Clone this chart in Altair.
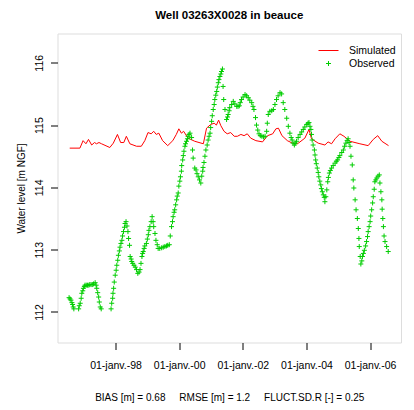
import altair as alt
import pandas as pd

title_text = "Well 03263X0028 in beauce"
y_title = "Water level [m NGF]"
x_title = "BIAS [m] = 0.68\u00a0\u00a0\u00a0\u00a0\u00a0RMSE [m] = 1.2\u00a0\u00a0\u00a0\u00a0\u00a0FLUCT.SD.R [-] = 0.25"
series_names = ["Simulated", "Observed"]
series_colors = ["#FF0000", "#00CD00"]

x_tick_years = [1998, 2000, 2002, 2004, 2006]
x_tick_labels = ["01-janv.-98", "01-janv.-00", "01-janv.-02", "01-janv.-04", "01-janv.-06"]
y_ticks = [112, 113, 114, 115, 116]

sim_years = [1996.56, 1996.88, 1996.98, 1997.07, 1997.15, 1997.25, 1997.34, 1997.40, 1997.48, 1997.56,
             1997.82, 1997.93, 1998.06, 1998.16, 1998.26, 1998.34, 1998.45, 1998.66, 1998.81, 1998.92,
             1999.02, 1999.12, 1999.20, 1999.28, 1999.36, 1999.48, 1999.64, 1999.80, 1999.91, 1999.99,
             2000.07, 2000.14, 2000.28, 2000.49, 2000.76, 2000.86, 2000.99, 2001.10, 2001.17, 2001.24,
             2001.31, 2001.41, 2001.51, 2001.62, 2001.73, 2001.83, 2001.94, 2002.04, 2002.14, 2002.25,
             2002.41, 2002.62, 2002.78, 2002.94, 2003.04, 2003.12, 2003.23, 2003.40, 2003.56, 2003.72,
             2003.95, 2004.08, 2004.16, 2004.37, 2004.58, 2004.68, 2004.79, 2004.90, 2005.05, 2005.18,
             2005.37, 2005.68, 2005.94, 2006.10, 2006.24, 2006.37, 2006.58]
sim_values = [114.63, 114.63, 114.75, 114.70, 114.77, 114.68, 114.72, 114.70, 114.72, 114.70,
              114.64, 114.71, 114.85, 114.72, 114.72, 114.82, 114.70, 114.66, 114.66, 114.75,
              114.88, 114.86, 114.90, 114.85, 114.87, 114.75, 114.67, 114.75, 114.85, 114.94,
              114.87, 114.90, 114.79, 114.74, 114.70, 114.95, 115.01, 115.03, 115.00, 115.08,
              114.99, 114.90, 114.86, 114.88, 114.82, 114.82, 114.85, 114.83, 114.86, 114.79,
              114.75, 114.73, 114.83, 114.86, 114.94, 114.95, 114.83, 114.75, 114.71, 114.70,
              114.79, 114.93, 114.78, 114.71, 114.68, 114.73, 114.70, 114.78, 114.86, 114.82,
              114.74, 114.70, 114.67, 114.77, 114.83, 114.74, 114.67]

obs_years = [1996.54, 1996.57, 1996.60, 1996.63, 1996.65, 1996.67, 1996.69, 1996.84, 1996.86, 1996.89,
             1996.92, 1996.94, 1996.97, 1996.99, 1997.02, 1997.04, 1997.08, 1997.12, 1997.16, 1997.19,
             1997.23, 1997.27, 1997.31, 1997.36, 1997.39, 1997.41, 1997.44, 1997.47, 1997.49, 1997.52,
             1997.55, 1997.86, 1997.88, 1997.91, 1997.92, 1997.94, 1997.96, 1997.99, 1998.02, 1998.04,
             1998.07, 1998.09, 1998.12, 1998.14, 1998.17, 1998.20, 1998.22, 1998.25, 1998.28, 1998.30,
             1998.33, 1998.36, 1998.39, 1998.41, 1998.44, 1998.46, 1998.49, 1998.51, 1998.54, 1998.58,
             1998.62, 1998.66, 1998.70, 1998.74, 1998.77, 1998.80, 1998.83, 1998.85, 1998.87, 1998.90,
             1998.92, 1998.97, 1999.00, 1999.03, 1999.05, 1999.08, 1999.12, 1999.15, 1999.18, 1999.20,
             1999.24, 1999.27, 1999.31, 1999.34, 1999.39, 1999.45, 1999.50, 1999.55, 1999.60, 1999.64,
             1999.69, 1999.72, 1999.76, 1999.79, 1999.81, 1999.84, 1999.86, 1999.89, 1999.92, 1999.94,
             1999.97, 1999.99, 2000.02, 2000.04, 2000.07, 2000.08, 2000.11, 2000.13, 2000.15, 2000.18,
             2000.20, 2000.23, 2000.26, 2000.28, 2000.31, 2000.34, 2000.39, 2000.42, 2000.44, 2000.49,
             2000.53, 2000.56, 2000.60, 2000.64, 2000.68, 2000.71, 2000.74, 2000.75, 2000.78, 2000.81,
             2000.84, 2000.88, 2000.91, 2000.94, 2000.97, 2000.99, 2001.02, 2001.04, 2001.07, 2001.10,
             2001.12, 2001.15, 2001.18, 2001.20, 2001.23, 2001.25, 2001.28, 2001.31, 2001.33, 2001.36,
             2001.38, 2001.40, 2001.44, 2001.49, 2001.52, 2001.54, 2001.57, 2001.59, 2001.65, 2001.70,
             2001.75, 2001.81, 2001.85, 2001.89, 2001.92, 2001.96, 2002.01, 2002.07, 2002.12, 2002.17,
             2002.22, 2002.28, 2002.32, 2002.35, 2002.40, 2002.43, 2002.47, 2002.51, 2002.55, 2002.60,
             2002.65, 2002.70, 2002.75, 2002.77, 2002.80, 2002.85, 2002.91, 2002.96, 2003.01, 2003.06,
             2003.11, 2003.17, 2003.22, 2003.27, 2003.32, 2003.38, 2003.43, 2003.48, 2003.52, 2003.55,
             2003.58, 2003.62, 2003.65, 2003.69, 2003.74, 2003.80, 2003.85, 2003.90, 2003.95, 2004.01,
             2004.05, 2004.08, 2004.11, 2004.14, 2004.16, 2004.18, 2004.21, 2004.25, 2004.27, 2004.29,
             2004.31, 2004.34, 2004.37, 2004.39, 2004.42, 2004.45, 2004.47, 2004.50, 2004.53, 2004.56,
             2004.58, 2004.61, 2004.64, 2004.67, 2004.69, 2004.72, 2004.75, 2004.79, 2004.84, 2004.90,
             2004.94, 2004.98, 2005.02, 2005.05, 2005.11, 2005.16, 2005.20, 2005.24, 2005.28, 2005.31,
             2005.34, 2005.37, 2005.40, 2005.44, 2005.47, 2005.49, 2005.53, 2005.56, 2005.60, 2005.63,
             2005.65, 2005.66, 2005.69, 2005.71, 2005.74, 2005.76, 2005.79, 2005.82, 2005.86, 2005.89,
             2005.92, 2005.94, 2005.97, 2006.00, 2006.02, 2006.05, 2006.08, 2006.10, 2006.13, 2006.15,
             2006.18, 2006.21, 2006.25, 2006.29, 2006.31, 2006.34, 2006.37, 2006.38, 2006.40, 2006.42,
             2006.44, 2006.47, 2006.52, 2006.57]
obs_values = [112.23, 112.21, 112.19, 112.15, 112.12, 112.08, 112.05, 112.05, 112.10, 112.14,
              112.22, 112.30, 112.34, 112.38, 112.41, 112.43, 112.43, 112.43, 112.43, 112.44,
              112.44, 112.44, 112.45, 112.47, 112.43, 112.38, 112.31, 112.24, 112.16, 112.08,
              112.05, 112.05, 112.14, 112.22, 112.30, 112.38, 112.48, 112.59, 112.67, 112.75,
              112.83, 112.91, 112.98, 113.04, 113.10, 113.15, 113.22, 113.29, 113.36, 113.42,
              113.45, 113.38, 113.29, 113.18, 113.07, 112.89, 112.85, 112.81, 112.78, 112.75,
              112.72, 112.68, 112.62, 112.64, 112.68, 112.78, 112.89, 112.94, 112.97, 113.02,
              113.06, 113.10, 113.17, 113.24, 113.31, 113.37, 113.45, 113.53, 113.45, 113.37,
              113.26, 113.15, 113.08, 113.02, 113.02, 113.03, 113.04, 113.05, 113.06, 113.07,
              113.08, 113.22, 113.37, 113.45, 113.53, 113.60, 113.64, 113.72, 113.80, 113.86,
              113.91, 114.02, 114.10, 114.17, 114.26, 114.35, 114.44, 114.51, 114.58, 114.66,
              114.70, 114.74, 114.78, 114.82, 114.85, 114.87, 114.80, 114.60, 114.47, 114.31,
              114.28, 114.22, 114.17, 114.12, 114.07, 114.18, 114.26, 114.32, 114.40, 114.50,
              114.60, 114.68, 114.76, 114.82, 114.87, 114.96, 115.06, 115.15, 115.25, 115.33,
              115.41, 115.48, 115.54, 115.61, 115.68, 115.73, 115.78, 115.82, 115.86, 115.90,
              115.62, 115.41, 115.25, 115.09, 115.13, 115.17, 115.23, 115.28, 115.33, 115.38,
              115.34, 115.30, 115.30, 115.31, 115.36, 115.41, 115.45, 115.49, 115.47, 115.44,
              115.40, 115.36, 115.30, 115.25, 115.12, 115.00, 114.92, 114.86, 114.83, 114.82,
              114.81, 114.82, 114.90, 115.03, 115.17, 115.22, 115.23, 115.25, 115.33, 115.41,
              115.47, 115.52, 115.50, 115.36, 115.25, 115.11, 114.98, 114.87, 114.80, 114.76,
              114.71, 114.68, 114.71, 114.74, 114.80, 114.85, 114.89, 114.93, 114.97, 115.01,
              115.03, 115.04, 114.98, 114.93, 114.85, 114.76, 114.68, 114.60, 114.52, 114.44,
              114.38, 114.31, 114.24, 114.17, 114.10, 114.04, 113.98, 113.93, 113.88, 113.84,
              113.77, 113.85, 113.96, 114.09, 114.16, 114.23, 114.27, 114.31, 114.35, 114.39,
              114.42, 114.44, 114.48, 114.51, 114.56, 114.60, 114.66, 114.71, 114.75, 114.78,
              114.72, 114.66, 114.50, 114.36, 114.12, 113.99, 113.80, 113.64, 113.50, 113.34,
              113.18, 113.05, 112.89, 112.77, 112.82, 112.89, 112.94, 112.99, 113.06, 113.13,
              113.21, 113.29, 113.37, 113.45, 113.54, 113.64, 113.75, 113.85, 113.97, 114.09,
              114.12, 114.15, 114.18, 114.20, 114.07, 113.93, 113.80, 113.65, 113.50, 113.37,
              113.22, 113.13, 113.05, 112.97]

sim_df = pd.DataFrame({"year": sim_years, "level": sim_values})
obs_df = pd.DataFrame({"year": obs_years, "level": obs_values, "series": "Observed"})

FONT = "Liberation Sans"
line_path = "M-2,0H2"
plus_path = "M-0.5,0H0.5M0,-0.5V0.5"

label_expr = "[" + ",".join("'%s'" % s for s in x_tick_labels) + "][indexof([" + ",".join(
    str(v) for v in x_tick_years) + "], datum.value)]"

x_scale = alt.Scale(domain=[1996.176, 2006.972], nice=False, zero=False)
y_scale = alt.Scale(domain=[111.51, 116.47], nice=False, zero=False)

x_axis = alt.Axis(values=x_tick_years, labelExpr=label_expr, title=x_title, domain=False, grid=False,
                  tickSize=7, tickColor="black", labelFont=FONT, labelFontSize=10.5, labelColor="black",
                  labelPadding=11, titleFont=FONT, titleFontSize=10, titleFontWeight="normal",
                  titleColor="black", titlePadding=21)
y_axis = alt.Axis(values=y_ticks, title=y_title, domain=False, grid=False, tickSize=7, tickColor="black",
                  labelFont=FONT, labelFontSize=10.5, labelColor="black", labelAngle=270,
                  labelAlign="center", labelBaseline="bottom", labelPadding=6,
                  titleFont=FONT, titleFontSize=10, titleFontWeight="normal", titleColor="black",
                  titlePadding=8)

legend = alt.Legend(title=None, orient="none", legendX=265.5, legendY=11.5, symbolSize=100,
                    symbolStrokeWidth=1, labelOffset=15, labelFont=FONT, labelFontSize=10.5,
                    labelColor="black", rowPadding=2, padding=0)

sim_layer = alt.Chart(sim_df).mark_line(color=series_colors[0], strokeWidth=1).encode(
    x=alt.X("year:Q", scale=x_scale, axis=x_axis),
    y=alt.Y("level:Q", scale=y_scale, axis=y_axis),
)

obs_layer = alt.Chart(obs_df).mark_point(filled=False, strokeWidth=1, size=100, opacity=1).encode(
    x=alt.X("year:Q", scale=x_scale, axis=x_axis),
    y=alt.Y("level:Q", scale=y_scale, axis=y_axis),
    color=alt.Color("series:N", scale=alt.Scale(domain=series_names, range=series_colors), legend=legend),
    shape=alt.Shape("series:N", scale=alt.Scale(domain=series_names, range=[line_path, plus_path]),
                    legend=legend),
)

chart = alt.layer(sim_layer, obs_layer).properties(
    width=343.5, height=309,
    title=alt.TitleParams(title_text, font=FONT, fontSize=11.5, fontWeight="bold", color="black",
                          anchor="middle", offset=12.5),
    autosize=alt.AutoSizeParams(type="none"),
    padding={"left": 49.5, "top": 25.5, "right": 5, "bottom": 60},
).configure_view(stroke="black", strokeWidth=1).configure(background="white")

chart.save("out.html", embed_options={"renderer": "svg", "actions": False})
